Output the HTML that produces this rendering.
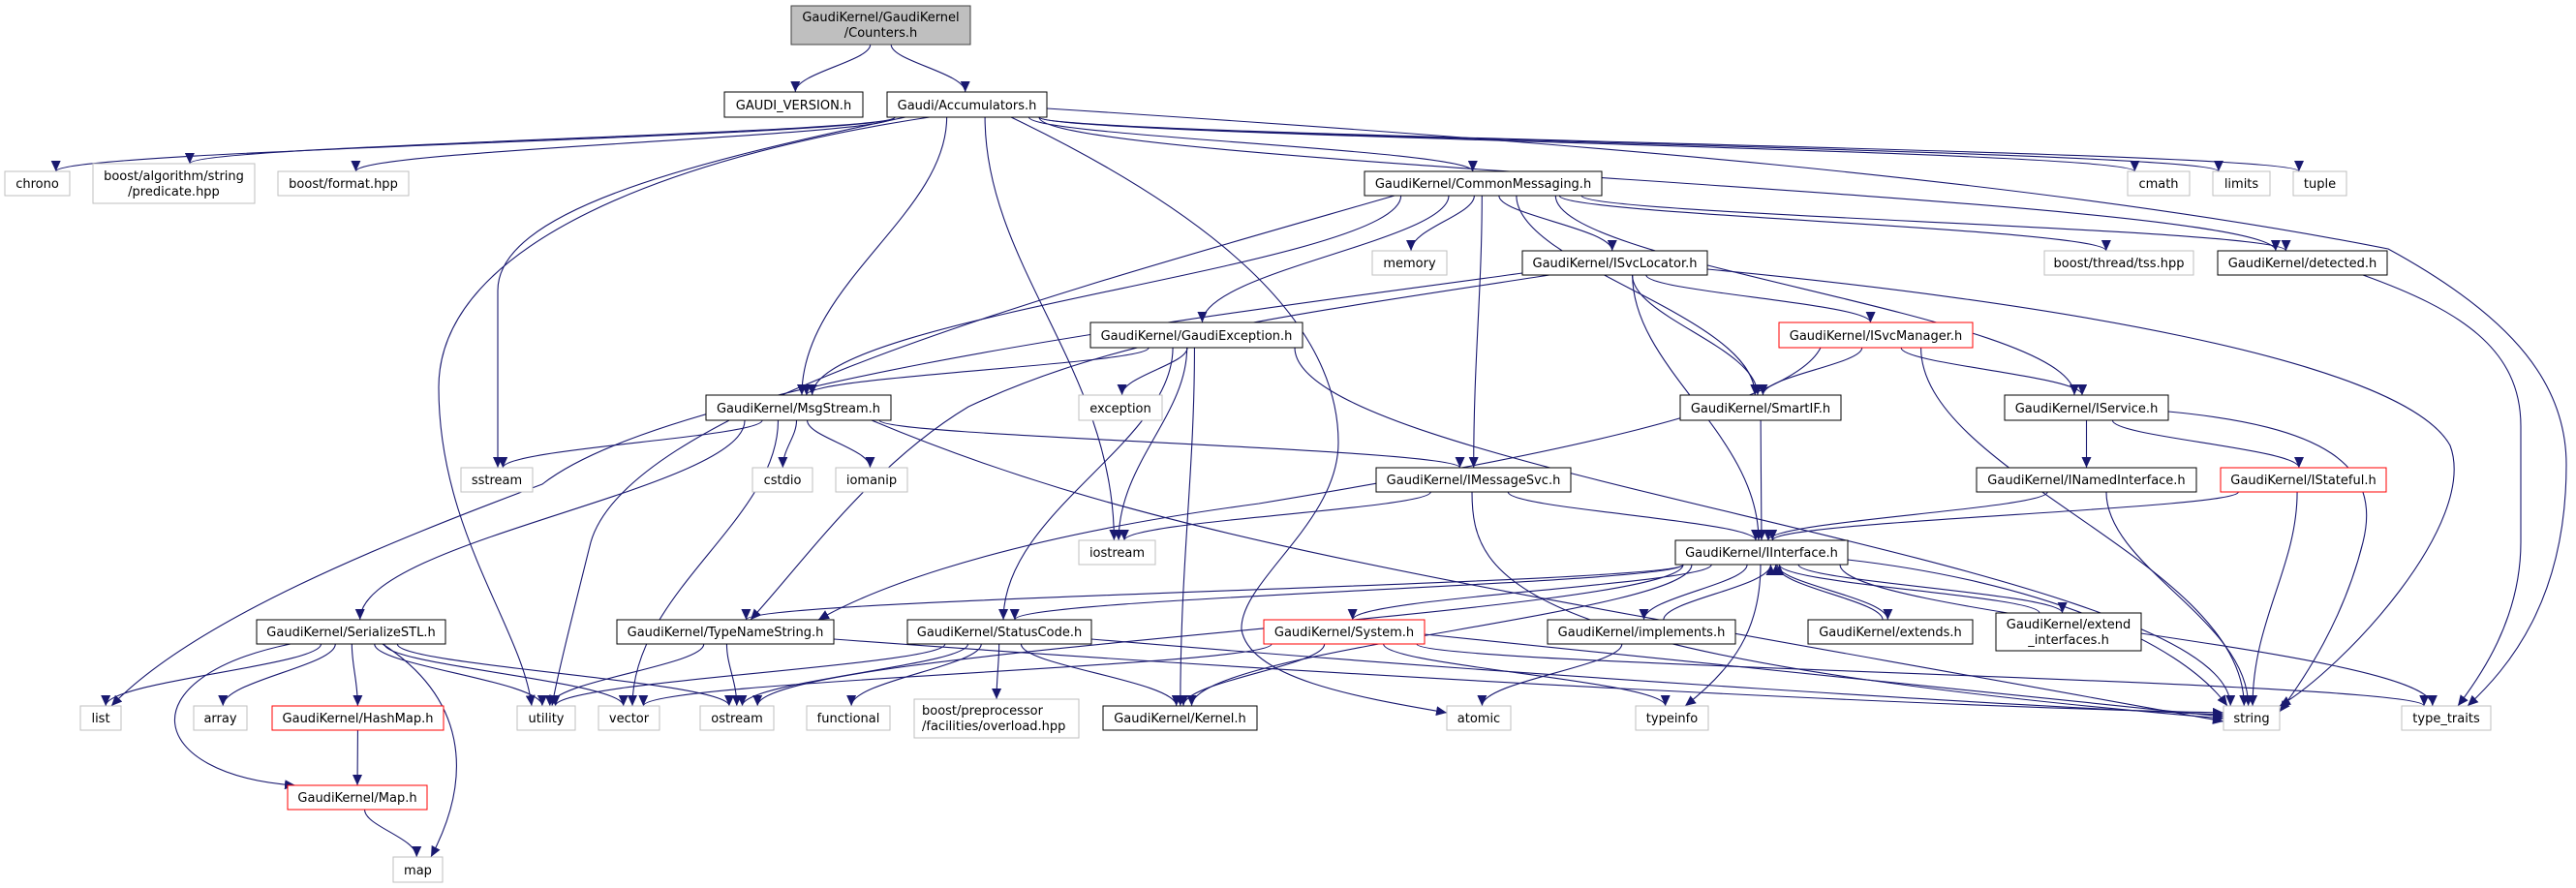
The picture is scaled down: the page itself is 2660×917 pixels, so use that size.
<!DOCTYPE html>
<html><head><meta charset="utf-8"><style>
html,body{margin:0;padding:0;background:#fff;}
body{width:2660px;height:917px;overflow:hidden;}
svg{display:block;}
text{font-family:"DejaVu Sans","Liberation Sans",sans-serif;font-size:13px;fill:#000;}
</style></head><body>
<svg id="g" width="2660" height="917" viewBox="0 0 2660 917" xmlns="http://www.w3.org/2000/svg">
<defs><marker id="a" markerUnits="userSpaceOnUse" markerWidth="12" markerHeight="10" refX="11" refY="5" orient="auto"><path d="M0,0 L11,5 L0,10 z" fill="#191970"/></marker></defs>
<g id="edges" fill="none" stroke="#191970" stroke-width="1.1"></g>
<g id="nodes">
<rect x="817" y="6" width="185" height="40" fill="#bfbfbf" stroke="#404040"/><text x="909.5" y="22" text-anchor="middle">GaudiKernel/GaudiKernel</text><text x="909.5" y="38" text-anchor="middle">/Counters.h</text>
<rect x="748" y="95" width="143" height="26" fill="#fff" stroke="#000"/><text x="819.5" y="113" text-anchor="middle">GAUDI_VERSION.h</text>
<rect x="916" y="95" width="165" height="26" fill="#fff" stroke="#000"/><text x="998.5" y="113" text-anchor="middle">Gaudi/Accumulators.h</text>
<rect x="5" y="177" width="67" height="25" fill="#fff" stroke="#bfbfbf"/><text x="38.5" y="194" text-anchor="middle">chrono</text>
<rect x="96" y="169" width="167" height="41" fill="#fff" stroke="#bfbfbf"/><text x="179.5" y="186" text-anchor="middle">boost/algorithm/string</text><text x="179.5" y="202" text-anchor="middle">/predicate.hpp</text>
<rect x="287" y="177" width="135" height="25" fill="#fff" stroke="#bfbfbf"/><text x="354.5" y="194" text-anchor="middle">boost/format.hpp</text>
<rect x="1409" y="177" width="245" height="25" fill="#fff" stroke="#000"/><text x="1531.5" y="194" text-anchor="middle">GaudiKernel/CommonMessaging.h</text>
<rect x="2197" y="177" width="64" height="25" fill="#fff" stroke="#bfbfbf"/><text x="2229" y="194" text-anchor="middle">cmath</text>
<rect x="2285" y="177" width="59" height="25" fill="#fff" stroke="#bfbfbf"/><text x="2314.5" y="194" text-anchor="middle">limits</text>
<rect x="2368" y="177" width="55" height="25" fill="#fff" stroke="#bfbfbf"/><text x="2395.5" y="194" text-anchor="middle">tuple</text>
<rect x="1417" y="259" width="77" height="25" fill="#fff" stroke="#bfbfbf"/><text x="1455.5" y="276" text-anchor="middle">memory</text>
<rect x="1572" y="259" width="191" height="25" fill="#fff" stroke="#000"/><text x="1667.5" y="276" text-anchor="middle">GaudiKernel/ISvcLocator.h</text>
<rect x="2111" y="259" width="154" height="25" fill="#fff" stroke="#bfbfbf"/><text x="2188" y="276" text-anchor="middle">boost/thread/tss.hpp</text>
<rect x="2290" y="259" width="175" height="25" fill="#fff" stroke="#000"/><text x="2377.5" y="276" text-anchor="middle">GaudiKernel/detected.h</text>
<rect x="1126" y="333" width="219" height="26" fill="#fff" stroke="#000"/><text x="1235.5" y="351" text-anchor="middle">GaudiKernel/GaudiException.h</text>
<rect x="1837" y="333" width="200" height="26" fill="#fff" stroke="#ff0000"/><text x="1937" y="351" text-anchor="middle">GaudiKernel/ISvcManager.h</text>
<rect x="729" y="408" width="191" height="26" fill="#fff" stroke="#000"/><text x="824.5" y="426" text-anchor="middle">GaudiKernel/MsgStream.h</text>
<rect x="1114" y="408" width="86" height="26" fill="#fff" stroke="#bfbfbf"/><text x="1157" y="426" text-anchor="middle">exception</text>
<rect x="1735" y="408" width="166" height="26" fill="#fff" stroke="#000"/><text x="1818" y="426" text-anchor="middle">GaudiKernel/SmartIF.h</text>
<rect x="2070" y="408" width="169" height="26" fill="#fff" stroke="#000"/><text x="2154.5" y="426" text-anchor="middle">GaudiKernel/IService.h</text>
<rect x="476" y="483" width="74" height="25" fill="#fff" stroke="#bfbfbf"/><text x="513" y="500" text-anchor="middle">sstream</text>
<rect x="777" y="483" width="62" height="25" fill="#fff" stroke="#bfbfbf"/><text x="808" y="500" text-anchor="middle">cstdio</text>
<rect x="863" y="483" width="74" height="25" fill="#fff" stroke="#bfbfbf"/><text x="900" y="500" text-anchor="middle">iomanip</text>
<rect x="1421" y="483" width="201" height="25" fill="#fff" stroke="#000"/><text x="1521.5" y="500" text-anchor="middle">GaudiKernel/IMessageSvc.h</text>
<rect x="2041" y="483" width="227" height="25" fill="#fff" stroke="#000"/><text x="2154.5" y="500" text-anchor="middle">GaudiKernel/INamedInterface.h</text>
<rect x="2293" y="483" width="171" height="25" fill="#fff" stroke="#ff0000"/><text x="2378.5" y="500" text-anchor="middle">GaudiKernel/IStateful.h</text>
<rect x="1114" y="558" width="79" height="25" fill="#fff" stroke="#bfbfbf"/><text x="1153.5" y="575" text-anchor="middle">iostream</text>
<rect x="1730" y="558" width="178" height="25" fill="#fff" stroke="#000"/><text x="1819" y="575" text-anchor="middle">GaudiKernel/IInterface.h</text>
<rect x="265" y="640" width="195" height="25" fill="#fff" stroke="#000"/><text x="362.5" y="657" text-anchor="middle">GaudiKernel/SerializeSTL.h</text>
<rect x="637" y="640" width="224" height="25" fill="#fff" stroke="#000"/><text x="749" y="657" text-anchor="middle">GaudiKernel/TypeNameString.h</text>
<rect x="937" y="640" width="190" height="25" fill="#fff" stroke="#000"/><text x="1032" y="657" text-anchor="middle">GaudiKernel/StatusCode.h</text>
<rect x="1305" y="640" width="166" height="25" fill="#fff" stroke="#ff0000"/><text x="1388" y="657" text-anchor="middle">GaudiKernel/System.h</text>
<rect x="1598" y="640" width="194" height="25" fill="#fff" stroke="#000"/><text x="1695" y="657" text-anchor="middle">GaudiKernel/implements.h</text>
<rect x="1867" y="640" width="170" height="25" fill="#fff" stroke="#000"/><text x="1952" y="657" text-anchor="middle">GaudiKernel/extends.h</text>
<rect x="2061" y="633" width="150" height="39" fill="#fff" stroke="#000"/><text x="2136" y="649" text-anchor="middle">GaudiKernel/extend</text><text x="2136" y="665" text-anchor="middle">_interfaces.h</text>
<rect x="944" y="722" width="170" height="40" fill="#fff" stroke="#bfbfbf"/><text x="952" y="738">boost/preprocessor</text><text x="952" y="754">/facilities/overload.hpp</text>
<rect x="83" y="729" width="42" height="25" fill="#fff" stroke="#bfbfbf"/><text x="104" y="746" text-anchor="middle">list</text>
<rect x="200" y="729" width="55" height="25" fill="#fff" stroke="#bfbfbf"/><text x="227.5" y="746" text-anchor="middle">array</text>
<rect x="281" y="729" width="177" height="25" fill="#fff" stroke="#ff0000"/><text x="369.5" y="746" text-anchor="middle">GaudiKernel/HashMap.h</text>
<rect x="534" y="729" width="60" height="25" fill="#fff" stroke="#bfbfbf"/><text x="564" y="746" text-anchor="middle">utility</text>
<rect x="618" y="729" width="63" height="25" fill="#fff" stroke="#bfbfbf"/><text x="649.5" y="746" text-anchor="middle">vector</text>
<rect x="723" y="729" width="76" height="25" fill="#fff" stroke="#bfbfbf"/><text x="761" y="746" text-anchor="middle">ostream</text>
<rect x="833" y="729" width="86" height="25" fill="#fff" stroke="#bfbfbf"/><text x="876" y="746" text-anchor="middle">functional</text>
<rect x="1139" y="729" width="159" height="25" fill="#fff" stroke="#000"/><text x="1218.5" y="746" text-anchor="middle">GaudiKernel/Kernel.h</text>
<rect x="1494" y="729" width="66" height="25" fill="#fff" stroke="#bfbfbf"/><text x="1527" y="746" text-anchor="middle">atomic</text>
<rect x="1689" y="729" width="75" height="25" fill="#fff" stroke="#bfbfbf"/><text x="1726.5" y="746" text-anchor="middle">typeinfo</text>
<rect x="2296" y="729" width="58" height="25" fill="#fff" stroke="#bfbfbf"/><text x="2325" y="746" text-anchor="middle">string</text>
<rect x="2480" y="729" width="92" height="25" fill="#fff" stroke="#bfbfbf"/><text x="2526" y="746" text-anchor="middle">type_traits</text>
<rect x="297" y="811" width="144" height="25" fill="#fff" stroke="#ff0000"/><text x="369" y="828" text-anchor="middle">GaudiKernel/Map.h</text>
<rect x="406" y="885" width="51" height="26" fill="#fff" stroke="#bfbfbf"/><text x="431.5" y="903" text-anchor="middle">map</text>
</g>
</svg>
<script>
var N={Counters:[817,6,1002,46],GV:[748,95,891,121],Acc:[916,95,1081,121],chrono:[5,177,72,202],pred:[96,169,263,210],fmt:[287,177,422,202],CM:[1409,177,1654,202],cmath:[2197,177,2261,202],limits:[2285,177,2344,202],tuple:[2368,177,2423,202],memory:[1417,259,1494,284],ISL:[1572,259,1763,284],tss:[2111,259,2265,284],det:[2290,259,2465,284],GE:[1126,333,1345,359],ISM:[1837,333,2037,359],MS:[729,408,920,434],exception:[1114,408,1200,434],SmartIF:[1735,408,1901,434],IService:[2070,408,2239,434],sstream:[476,483,550,508],cstdio:[777,483,839,508],iomanip:[863,483,937,508],IMS:[1421,483,1622,508],INI:[2041,483,2268,508],IStateful:[2293,483,2464,508],iostream:[1114,558,1193,583],II:[1730,558,1908,583],SSTL:[265,640,460,665],TNS:[637,640,861,665],SC:[937,640,1127,665],System:[1305,640,1471,665],impl:[1598,640,1792,665],extends:[1867,640,2037,665],extif:[2061,633,2211,672],preproc:[944,722,1114,762],list:[83,729,125,754],array:[200,729,255,754],HashMap:[281,729,458,754],utility:[534,729,594,754],vector:[618,729,681,754],ostream:[723,729,799,754],functional:[833,729,919,754],Kernel:[1139,729,1298,754],atomic:[1494,729,1560,754],typeinfo:[1689,729,1764,754],string:[2296,729,2354,754],type_traits:[2480,729,2572,754],Map:[297,811,441,836],map:[406,885,457,911]};
var O={
"Acc type_traits":"M1081,112 C1600,145 2100,185 2466,257 C2600,330 2650,400 2650,480 C2650,620 2590,690 2548,729",
"det type_traits":"M2440,284 C2540,320 2603,360 2603,440 L2603,560 C2603,640 2560,700 2538,729",
"ISL string":"M1763,278 C2100,310 2480,370 2530,460 C2560,540 2420,690 2354,729",
"IService string":"M2239,425 C2400,440 2460,480 2440,560 C2420,640 2380,700 2354,735",
"Acc sstream":"M935,121 C700,170 514,220 514,300 L514,483",
"Acc utility":"M960,121 C700,160 453,250 453,400 C453,550 540,650 549,729",
"Acc atomic":"M1044,121 C1250,220 1382,330 1382,457 C1382,540 1280,600 1282,650 C1290,700 1400,720 1494,736",
"ISL list":"M1572,282 C1300,320 700,390 560,500 C400,560 200,640 115,729",
"CM utility":"M1440,202 C1100,300 650,420 610,560 C590,640 575,700 570,729",
"ISM TNS":"M1880,359 C1850,420 1600,470 1300,520 C1000,560 880,620 845,640",
"ISL TNS":"M1600,284 C1300,330 1150,350 1000,420 C900,480 830,580 775,640",
"MS string":"M900,434 C1200,560 1500,600 2296,745",
"SSTL Map":"M300,665 C130,700 150,800 305,811",
"SSTL map":"M395,665 C480,720 490,800 445,885",
"II typeinfo":"M1818,583 C1818,650 1790,690 1740,729",
"II string":"M1908,578 C2100,600 2250,660 2300,729",
"IMS string":"M1520,508 C1520,600 1560,680 2296,742",
"System string":"M1471,655 C1800,690 2100,720 2296,740",
"SC string":"M1127,660 C1600,700 2100,730 2296,738",
"TNS string":"M861,660 C1400,700 2000,730 2296,736"
};
var E="Counters GV,Counters Acc,Acc chrono,Acc pred,Acc fmt,Acc sstream,Acc utility,Acc MS,Acc iostream,Acc atomic,Acc CM,Acc det,Acc cmath,Acc limits,Acc tuple,Acc type_traits,CM MS,CM utility,CM GE,CM memory,CM IMS,CM ISL,CM SmartIF,CM IService,CM tss,CM det,ISL list,ISL TNS,ISL II,ISL SmartIF,ISL ISM,ISL string,GE MS,GE exception,GE iostream,GE SC,GE Kernel,GE string,MS sstream,MS cstdio,MS iomanip,MS SSTL,MS vector,MS IMS,MS string,ISM SmartIF,ISM IService,ISM string,ISM TNS,SmartIF II,IService INI,IService IStateful,IService string,IMS iostream,IMS II,IMS string,INI II,INI string,IStateful II,IStateful string,det type_traits,II TNS,II ostream,II SC,II Kernel,II System,II impl,II extends,II extif,II typeinfo,II type_traits,II string,impl II,impl atomic,extends II,extif II,SSTL list,SSTL array,SSTL HashMap,SSTL Map,SSTL map,SSTL utility,SSTL vector,SSTL ostream,TNS utility,TNS ostream,TNS string,SC utility,SC ostream,SC functional,SC preproc,SC Kernel,SC string,System vector,System Kernel,System typeinfo,System string,System type_traits,HashMap Map,Map map".split(",");
var g=document.getElementById("edges"),h="";
E.forEach(function(e){
if(O[e]){h+='<path d="'+O[e]+'" marker-end="url(#a)"/>';return;}
var p=e.split(" "),s=N[p[0]],t=N[p[1]];
var scx=(s[0]+s[2])/2,tcx=(t[0]+t[2])/2,sx,sy,tx,ty;
var off=(tcx-scx)*0.12;sx=Math.max(s[0]+8,Math.min(s[2]-8,scx+off));
tx=Math.max(t[0]+6,Math.min(t[2]-6,tcx-(tcx-scx)*0.02));
if(t[1]>=s[3]){sy=s[3];ty=t[1];}else{sy=s[1];ty=t[3];if(p[0]!="II"){sx+=8;tx+=12;}}
var dy=ty-sy;
h+='<path d="M'+sx+','+sy+' C'+sx+','+(sy+dy*0.35)+' '+tx+','+(ty-dy*0.4)+' '+tx+','+ty+'" marker-end="url(#a)"/>';});
g.innerHTML=h;
</script>
</body></html>
